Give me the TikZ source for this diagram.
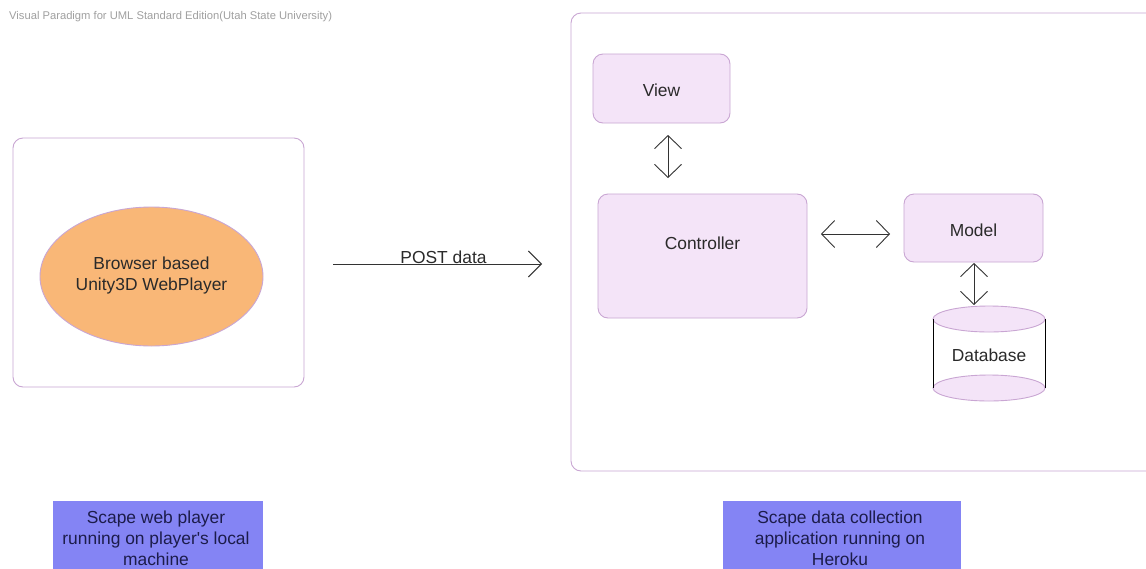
\documentclass[tikz,border=0pt]{standalone}
\usepackage{fontspec}
\setmainfont{Liberation Sans}[Ligatures=TeXOff]
\usetikzlibrary{arrows.meta,shapes.geometric}
\definecolor{boxline}{HTML}{C9A6D3}
\definecolor{compfill}{HTML}{F4E4F8}
\definecolor{orangefill}{HTML}{F9B777}
\definecolor{labelfill}{HTML}{8484F4}
\definecolor{labeltext}{HTML}{1C1C4A}
\definecolor{maintext}{HTML}{2A2A2A}
\definecolor{headgray}{HTML}{A0A0A0}
\tikzset{
  container/.style={draw=boxline, line width=0.9pt, rounded corners=10pt, inner sep=0pt, outer sep=0pt},
  comp/.style={draw=boxline, fill=compfill, line width=0.9pt, rounded corners=10pt, inner sep=0pt, outer sep=0pt},
  txt/.style={text=maintext, font=\fontsize{17.4}{21}\selectfont, inner sep=0pt, align=center},
  lbl/.style={fill=labelfill, inner sep=0pt, outer sep=0pt},
  lbltxt/.style={text=labeltext, font=\fontsize{17.4}{21}\selectfont, inner sep=0pt, align=center},
  dbl/.style={draw=black!80, line width=0.9pt, {Straight Barb[length=13pt,width=27pt]}-{Straight Barb[length=13pt,width=27pt]}},
  sgl/.style={draw=black!80, line width=0.9pt, -{Straight Barb[length=13pt,width=26pt]}},
}
\begin{document}
\begin{tikzpicture}[x=1pt,y=-1pt]
\useasboundingbox (0,0) rectangle (1146,568);
\clip (0,0) rectangle (1146,568);
\fill[white] (0,0) rectangle (1146,568);

\node[anchor=west, text=headgray, font=\fontsize{11.2}{13}\selectfont, inner sep=0pt] (head) at (9,17) {Visual Paradigm for UML Standard Edition(Utah State University)};

% left container
\node[container, minimum width=291pt, minimum height=249pt] (leftbox) at (158.5,262.5) {};
\node[draw=boxline, fill=orangefill, line width=0.9pt, ellipse, minimum width=223pt, minimum height=139pt, inner sep=0pt] (player) at (151.5,276.5) {};
\node[txt] (playerT) at (151.5,275) {Browser based\\Unity3D WebPlayer};

% POST arrow
\coordinate (postA) at (333,264);
\coordinate (postB) at (542,264);
\draw[sgl] (postA) -- (postB);
\node[txt, anchor=base] (postT) at (443.5,263) {POST data};

% right container
\node[container, minimum width=600pt, minimum height=458pt] (rightbox) at (871,242) {};

\node[comp, minimum width=137pt, minimum height=69pt] (view) at (661.5,88.5) {};
\node[txt] (viewT) at (661.5,90) {View};

\node[comp, minimum width=209pt, minimum height=124pt] (controller) at (702.5,256) {};
\node[txt] (controllerT) at (702.5,243) {Controller};

\node[comp, minimum width=139pt, minimum height=68pt] (model) at (973.5,228) {};
\node[txt] (modelT) at (973.5,230) {Model};

% database cylinder
\node[minimum width=112pt, minimum height=96pt, inner sep=0pt, outer sep=0pt] (db) at (989,353) {};
\fill[white] (933,319) rectangle (1045,388);
\draw[draw=boxline, fill=compfill, line width=0.9pt] (989,388) ellipse [x radius=56, y radius=13];
\draw[draw=boxline, fill=compfill, line width=0.9pt] (989,319) ellipse [x radius=56, y radius=13];
\draw[black, line width=1pt] (933,319) -- (933,388);
\draw[black, line width=1pt] (1045,319) -- (1045,388);
\node[txt] (dbT) at (989,355) {Database};

% connectors
\draw[dbl] ([xshift=6.5pt,yshift=-12pt]view.south) -- ([xshift=-34.5pt,yshift=16pt]controller.north);
\draw[dbl] ([xshift=14pt,yshift=22pt]controller.east) -- ([xshift=-14pt,yshift=-6pt]model.west);
\draw[dbl] ([xshift=0.5pt,yshift=-1pt]model.south) -- ([xshift=-15pt]db.north);

% bottom labels
\node[lbl, minimum width=210pt, minimum height=80pt] (leftlbl) at (158,541) {};
\node[lbltxt] (leftlblT) at (156,538.5) {Scape web player\\running on player's local\\machine};
\node[lbl, minimum width=238pt, minimum height=80pt] (rightlbl) at (842,541) {};
\node[lbltxt] (rightlblT) at (840,538.5) {Scape data collection\\application running on\\Heroku};
\end{tikzpicture}
\end{document}
